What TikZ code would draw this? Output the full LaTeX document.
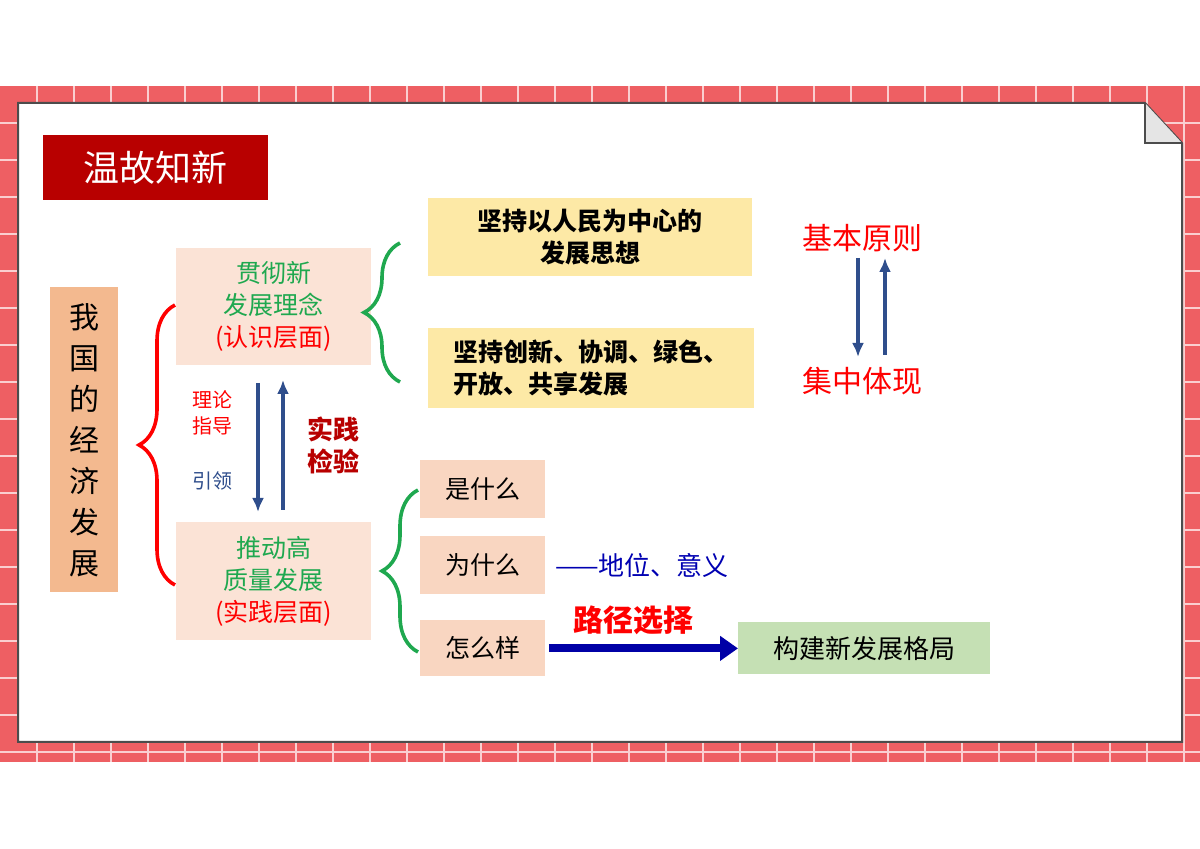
\documentclass[tikz,border=0pt]{standalone}
\usepackage{fontspec}
\setmainfont{Noto Sans CJK SC}
\usetikzlibrary{arrows.meta, decorations.pathreplacing, calc}
\definecolor{bandred}{HTML}{EE5F63}
\definecolor{titlered}{HTML}{B80000}
\definecolor{peach}{HTML}{FBE3D6}
\definecolor{sand}{HTML}{F3B98F}
\definecolor{lemon}{HTML}{FDE9A6}
\definecolor{mint}{HTML}{C5E0B4}
\definecolor{navy}{HTML}{2F4E8C}
\definecolor{leaf}{HTML}{1FA84F}
\begin{document}
\begin{tikzpicture}[x=0.5pt, y=-0.5pt,
		box/.style		={ anchor=north west, inner sep=0pt, align=center },
		concept/.style	={ box, fill=peach, font=\fontsize{12.5}{16}\selectfont },
		item/.style		={ box, fill=lemon, font=\fontsize{12.5}{16}\selectfont\bfseries },
		ask/.style		={ box, fill=peach!70!sand, font=\fontsize{12.5}{15}\selectfont },
		brace/.style	={ decorate, decoration={brace, amplitude=18pt}, line width=1.8pt },
		flow/.style		={ -{Latex[length=7pt,width=6pt]}, navy, line width=1.8pt },
	]
	\useasboundingbox (0,0) rectangle (1200,849);

	% background band and card
	\fill [bandred] (0,86) rectangle (1200,762);
	\foreach \gx in {37,74,...,1200}
		\draw [white!70!bandred, line width=0.8pt] (\gx,86) -- (\gx,762);
	\foreach \gy in {123,160,...,762}
		\draw [white!70!bandred, line width=0.8pt] (0,\gy) -- (1200,\gy);
	\draw [fill=white, draw=black!70, line width=1pt]
		(18,103) -- (1145,103) -- (1182,143) -- (1182,742) -- (18,742) -- cycle;
	\draw [fill=black!10, draw=black!70, line width=1pt]
		(1145,103) -- (1145,143) -- (1182,143);

	% title
	\node (title) [box, fill=titlered, text=white, minimum width=112.5pt, minimum height=32.5pt,
		font=\fontsize{18}{20}\selectfont] at (43,135) {温故知新};

	% main nodes
	\node (econ) [box, fill=sand, minimum width=34pt, minimum height=152.5pt,
		font=\fontsize{15}{20.5}\selectfont] at (50,287) {我\\国\\的\\经\\济\\发\\展};
	\node (idea) [concept, minimum width=97.5pt, minimum height=58.5pt] at (176,248)
		{\textcolor{leaf}{贯彻新}\\\textcolor{leaf}{发展理念}\\\textcolor{red}{(认识层面)}};
	\node (push) [concept, minimum width=97.5pt, minimum height=59pt] at (176,522)
		{\textcolor{leaf}{推动高}\\\textcolor{leaf}{质量发展}\\\textcolor{red}{(实践层面)}};

	\draw [brace, red] (175,585) -- (175,305);
	\draw [flow] (258,383) -- (258,512);
	\draw [flow] (283,510) -- (283,380);
	\node (guide) [red, align=center, font=\fontsize{10}{13}\selectfont] at (212,413) {理论\\指导};
	\node (lead) [navy, font=\fontsize{10}{12}\selectfont] at (212,481) {引领};
	\node (test) [titlered, align=center, font=\fontsize{13}{16}\selectfont\bfseries] at (333,445) {实践\\检验};

	% upper branch
	\draw [brace, leaf] (400,382) -- (400,243);
	\node (people) [item, minimum width=162pt, minimum height=39pt] at (428,198)
		{坚持以人民为中心的\\发展思想};
	\node (five) [item, minimum width=163pt, minimum height=40pt, align=left] at (428,328)
		{坚持创新、协调、绿色、\\开放、共享发展};
	\node (basic) [red, font=\fontsize{15}{18}\selectfont] at (862,238) {基本原则};
	\node (embody) [red, font=\fontsize{15}{18}\selectfont] at (862,381) {集中体现};
	\draw [flow] (858,258) -- (858,357);
	\draw [flow] (885,355) -- (885,258);

	% lower branch
	\draw [brace, leaf] (418,652) -- (418,490);
	\node (what) [ask, minimum width=62.5pt, minimum height=29pt] at (420,460) {是什么};
	\node (why) [ask, minimum width=62.5pt, minimum height=29pt] at (420,536) {为什么};
	\node (how) [ask, minimum width=62.5pt, minimum height=28pt] at (420,620) {怎么样};
	\node (role) [anchor=west, blue!70!black, font=\fontsize{13}{15}\selectfont] at (548,565) {——地位、意义};
	\node (pattern) [box, fill=mint, minimum width=126pt, minimum height=26pt,
		font=\fontsize{13}{15}\selectfont] at (738,622) {构建新发展格局};
	\draw [-{Triangle[length=9pt,width=12pt]}, line width=4pt, blue!65!black]
		(how.east) ++(3,0) coordinate (hs) -- (pattern.west);
	\node (path) [red, font=\fontsize{15}{17}\selectfont\bfseries] at (633,620) {路径选择};

\end{tikzpicture}
\end{document}
